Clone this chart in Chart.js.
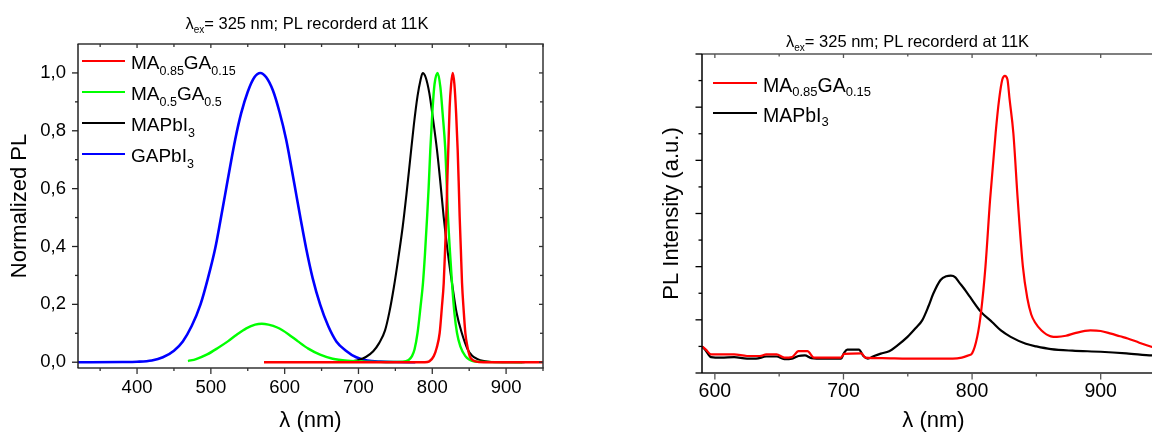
<!DOCTYPE html>
<html><head><meta charset="utf-8">
<script src="https://cdn.jsdelivr.net/npm/chart.js@4.4.1/dist/chart.umd.min.js"></script>
<style>
html,body{margin:0;padding:0;background:#fff;overflow:hidden;width:1152px;height:432px;}
#wrap{position:relative;width:1152px;height:432px;overflow:hidden;font-family:'Liberation Sans',Arial,sans-serif;color:#000;}
canvas{position:absolute;top:0;}
.title{position:absolute;font-size:16.5px;line-height:20px;white-space:nowrap;text-align:center;}
.sub{position:relative;}
.legline{position:absolute;height:0;border-top:2px solid;}
.legtext{position:absolute;line-height:22px;white-space:nowrap;}
</style></head><body>
<div id="wrap">
<canvas id="left" width="576" height="432" style="left:0"></canvas>
<canvas id="right" width="600" height="432" style="left:576px"></canvas>
</div>
<script>
// ---------- Left panel data (normalized PL) ----------
const leftRedX = [572, 700, 790, 796, 802, 806, 810, 813, 815.5, 817.5, 819, 820.5, 822, 823.5, 825.5, 827.7, 830, 832.3, 834.4, 835.8, 837.1, 838.7, 840.3, 842.5, 844.8, 847.5, 850.7, 854, 858.4, 870, 950];
const leftRedY = [0, 0, 0, 0.003, 0.021, 0.05, 0.101, 0.19, 0.274, 0.4, 0.503, 0.64, 0.76, 0.88, 0.96, 1.0, 0.96, 0.86, 0.733, 0.62, 0.503, 0.39, 0.274, 0.18, 0.101, 0.055, 0.021, 0.009, 0.003, 0, 0];

const leftGreenX = [469, 480, 495, 510, 523, 535, 548, 560, 569, 578, 590, 605, 618, 632, 648, 665, 685, 710, 740, 760, 768, 772.5, 776, 780, 784, 787.4, 790, 793, 795, 797.3, 800, 803, 807.3, 811, 814, 817.7, 819.5, 821.3, 824, 826.7, 830, 833.5, 838, 844.8, 850, 856, 870, 922];
const leftGreenY = [0.004, 0.011, 0.027, 0.05, 0.072, 0.095, 0.117, 0.13, 0.133, 0.13, 0.12, 0.097, 0.072, 0.047, 0.026, 0.012, 0.005, 0.002, 0.001, 0.002, 0.008, 0.021, 0.045, 0.101, 0.19, 0.274, 0.37, 0.503, 0.6, 0.733, 0.86, 0.96, 1.0, 0.95, 0.86, 0.733, 0.62, 0.503, 0.38, 0.274, 0.17, 0.101, 0.055, 0.021, 0.009, 0.003, 0.001, 0];

const leftBlackX = [692, 700, 710, 720, 728, 736, 742, 748, 754, 760, 765, 770, 775, 780, 784, 787, 791, 796, 801, 806.4, 811, 815.4, 821, 826.7, 833, 840, 848, 854, 860.7, 870, 880, 925];
const leftBlackY = [0.004, 0.008, 0.018, 0.038, 0.066, 0.11, 0.175, 0.26, 0.36, 0.47, 0.58, 0.7, 0.82, 0.92, 0.975, 1.0, 0.985, 0.93, 0.84, 0.733, 0.62, 0.503, 0.38, 0.274, 0.17, 0.101, 0.044, 0.022, 0.0115, 0.004, 0.001, 0];

const leftBlueX = [320, 380, 400, 420, 435, 450, 462, 474, 486, 496, 506, 513, 519, 526, 533, 541, 550, 559, 567, 575, 584, 593, 602, 609, 616, 622, 629, 638, 648, 659, 670, 683, 697, 712, 730, 750, 777];
const leftBlueY = [0, 0.0005, 0.0015, 0.006, 0.017, 0.04, 0.072, 0.125, 0.2, 0.29, 0.395, 0.49, 0.575, 0.675, 0.77, 0.86, 0.935, 0.985, 1.0, 0.985, 0.94, 0.865, 0.77, 0.675, 0.575, 0.49, 0.395, 0.29, 0.2, 0.125, 0.072, 0.04, 0.017, 0.006, 0.002, 0.0005, 0];

const leftNames = ['MA<span class="s">0.85</span>GA<span class="s">0.15</span>', 'MA<span class="s">0.5</span>GA<span class="s">0.5</span>', 'MAPbI<span class="s">3</span>', 'GAPbI<span class="s">3</span>'];
const leftColors = ['#ff0000', '#00ff00', '#000000', '#0000ff'];

const leftXTicks = [400, 500, 600, 700, 800, 900];
const leftXMinor = [350, 450, 550, 650, 750, 850, 950];
const leftYTicks = [0, 0.2, 0.4, 0.6, 0.8, 1.0];
const leftYLabels = ['0,0', '0,2', '0,4', '0,6', '0,8', '1,0'];
const leftYMinor = [0.1, 0.3, 0.5, 0.7, 0.9];

// ---------- Right panel data (PL intensity, a.u.) ----------
const rightRedX = [590, 593, 597, 605, 615, 625, 635, 640, 648, 654, 660, 665, 672, 677, 690, 698, 700.5, 714, 717, 730, 750, 770, 785, 792, 797, 800, 804, 807, 810.4, 814, 818.3, 821, 823.5, 825.5, 827.5, 829.2, 832.1, 835.5, 839.5, 843, 846, 849, 854, 861.2, 866, 873, 880, 892, 900, 908, 915, 921, 930, 940, 950];
const rightRedY = [0.5, 0.44, 0.35, 0.35, 0.35, 0.32, 0.32, 0.35, 0.35, 0.29, 0.3, 0.41, 0.41, 0.29, 0.29, 0.29, 0.36, 0.37, 0.29, 0.28, 0.27, 0.27, 0.27, 0.29, 0.33, 0.37, 0.68, 1.15, 2.0, 3.26, 4.51, 5.14, 5.52, 5.59, 5.52, 5.14, 4.51, 3.26, 2.0, 1.4, 1.1, 0.95, 0.8, 0.69, 0.68, 0.7, 0.75, 0.8, 0.79, 0.74, 0.69, 0.65, 0.57, 0.49, 0.42];

const rightBlackX = [590, 593, 597, 605, 615, 625, 632, 640, 648, 654, 660, 665, 670, 675, 685, 698, 700.5, 703, 712, 715.5, 719, 723, 729, 735.5, 742, 749.8, 756, 761.2, 766, 769.8, 775.5, 780, 783.5, 787, 789.8, 794, 798.4, 806.9, 815.5, 822.4, 830, 841.8, 850, 861.3, 878, 900, 920, 940, 950];
const rightBlackY = [0.5, 0.42, 0.3, 0.29, 0.3, 0.27, 0.27, 0.31, 0.31, 0.26, 0.27, 0.32, 0.33, 0.28, 0.27, 0.27, 0.38, 0.44, 0.44, 0.32, 0.27, 0.31, 0.365, 0.41, 0.52, 0.68, 0.84, 0.99, 1.25, 1.49, 1.75, 1.82, 1.83, 1.8, 1.71, 1.58, 1.43, 1.15, 0.96, 0.8, 0.68, 0.55, 0.5, 0.45, 0.42, 0.40, 0.37, 0.33, 0.32];

const rightNames = ['MA<span class="s">0.85</span>GA<span class="s">0.15</span>', 'MAPbI<span class="s">3</span>'];
const rightColors = ['#ff0000', '#000000'];

const rightXTicks = [600, 700, 800, 900];
const rightXMinor = [650, 750, 850, 950];
const rightYMajor = [0, 1, 2, 3, 4, 5, 6];
const rightYMinor = [0.5, 1.5, 2.5, 3.5, 4.5, 5.5];

const titleHTML = 'λ<span class="sub" style="font-size:10px;top:4px">ex</span>= 325 nm; PL recorderd at 11K';

// ---------- helpers ----------
const FAM = "'Liberation Sans', Arial, sans-serif";
function pts(xs, ys) { return xs.map((x, i) => ({x: x, y: ys[i]})); }
function ds(xs, ys, color, w) {
  return {data: pts(xs, ys), borderColor: color, backgroundColor: color, borderWidth: w,
    showLine: true, pointRadius: 0, cubicInterpolationMode: 'monotone', fill: false};
}
function framePlugin(o) {
  return {
    id: 'frame' + o.name,
    afterDraw(chart) {
      const ctx = chart.ctx, a = chart.chartArea, xs = chart.scales.x, ys = chart.scales.y;
      ctx.save();
      const seg = (x1, y1, x2, y2, c, w) => { ctx.strokeStyle = c; ctx.lineWidth = w; ctx.beginPath(); ctx.moveTo(x1, y1); ctx.lineTo(x2, y2); ctx.stroke(); };
      o.xMajor.forEach(v => { const p = xs.getPixelForValue(v);
        seg(p, a.bottom, p, a.bottom + o.outMaj, o.bottomColor, o.tw);
        seg(p, a.top, p, a.top + o.inMaj, o.topColor, o.tw); });
      o.xMinor.forEach(v => { const p = xs.getPixelForValue(v);
        seg(p, a.bottom, p, a.bottom + o.outMin, o.bottomColor, o.tw);
        seg(p, a.top, p, a.top + o.inMin, o.topColor, o.tw); });
      o.yMajor.forEach(v => { const p = ys.getPixelForValue(v);
        seg(a.left, p, a.left - o.outMaj, p, o.leftColor, o.tw);
        if (o.right) seg(a.right, p, a.right - o.inMaj, p, o.rightColor, o.tw); });
      o.yMinor.forEach(v => { const p = ys.getPixelForValue(v);
        seg(a.left, p, a.left - o.outMin, p, o.leftColor, o.tw);
        if (o.right) seg(a.right, p, a.right - o.inMin, p, o.rightColor, o.tw); });
      seg(a.left - 0.5, a.top, a.right + 0.75, a.top, o.topColor, o.topW);
      seg(a.left - 0.5, a.bottom, a.right + 0.75, a.bottom, o.bottomColor, o.bottomW);
      if (o.right) seg(a.right, a.top, a.right, a.bottom, o.rightColor, o.rightW);
      seg(a.left, a.top, a.left, a.bottom, o.leftColor, o.leftW);
      ctx.restore();
    }
  };
}
function addText(html, cls, style) {
  const d = document.createElement('div');
  d.className = cls; d.innerHTML = html;
  Object.assign(d.style, style);
  document.getElementById('wrap').appendChild(d);
  return d;
}
function legend(names, colors, rows, lx1, lx2, tx, fs, subFs, subTop) {
  names.forEach((n, i) => {
    const r = rows[i];
    addText('', 'legline', {left: lx1 + 'px', width: (lx2 - lx1) + 'px', top: (r - 1) + 'px', borderTopColor: colors[i]});
    const t = addText(n, 'legtext', {left: tx + 'px', top: (r - 9) + 'px', fontSize: fs + 'px'});
    t.querySelectorAll('.s').forEach(s => { s.style.fontSize = subFs + 'px'; s.style.position = 'relative'; s.style.top = subTop + 'px'; });
  });
}

// ---------- Left chart ----------
new Chart(document.getElementById('left'), {
  type: 'scatter',
  data: {datasets: [
    ds(leftRedX, leftRedY, leftColors[0], 2.4),
    ds(leftGreenX, leftGreenY, leftColors[1], 2.4),
    ds(leftBlackX, leftBlackY, leftColors[2], 2.1),
    ds(leftBlueX, leftBlueY, leftColors[3], 2.6)
  ]},
  options: {
    responsive: false, animation: false, devicePixelRatio: 1,
    layout: {padding: {left: 0, top: 44, right: 33, bottom: 0}},
    plugins: {legend: {display: false}, title: {display: false}, tooltip: {enabled: false}},
    scales: {
      x: {type: 'linear', min: 320, max: 950,
        grid: {display: false, drawTicks: false}, border: {display: false},
        afterBuildTicks: s => { s.ticks = leftXTicks.map(v => ({value: v})); },
        afterFit: s => { s.height = 64; },
        ticks: {padding: 9, color: '#000', autoSkip: false, maxRotation: 0, font: {family: FAM, size: 18.5}, callback: v => String(v)},
        title: {display: true, text: 'λ (nm)', color: '#000', font: {family: FAM, size: 22, lineHeight: 1}, padding: {top: 0, bottom: 0}}},
      y: {type: 'linear', min: -0.02, max: 1.1,
        grid: {display: false, drawTicks: false}, border: {display: false},
        afterBuildTicks: s => { s.ticks = leftYTicks.map(v => ({value: v})); },
        afterFit: s => { s.width = 78; },
        ticks: {padding: 12, color: '#000', autoSkip: false, font: {family: FAM, size: 18.5}, callback: v => leftYLabels[leftYTicks.indexOf(v)]},
        title: {display: true, text: 'Normalized PL', color: '#000', font: {family: FAM, size: 22, lineHeight: 1.2}, padding: {top: 7, bottom: 0}}}
    }
  },
  plugins: [framePlugin({name: 'L', xMajor: leftXTicks, xMinor: leftXMinor, yMajor: leftYTicks, yMinor: leftYMinor,
    outMaj: 6, outMin: 3, inMaj: 4, inMin: 3, tw: 1.3, right: true,
    topColor: '#333', bottomColor: '#333', leftColor: '#222', rightColor: '#333',
    topW: 1.5, bottomW: 1.5, leftW: 1.5, rightW: 1.5})]
});

// ---------- Right chart ----------
new Chart(document.getElementById('right'), {
  type: 'scatter',
  data: {datasets: [
    ds(rightRedX, rightRedY, rightColors[0], 2.2),
    ds(rightBlackX, rightBlackY, rightColors[1], 2.2)
  ]},
  options: {
    responsive: false, animation: false, devicePixelRatio: 1,
    layout: {padding: {left: 0, top: 54, right: 11, bottom: 0}},
    plugins: {legend: {display: false}, title: {display: false}, tooltip: {enabled: false}},
    scales: {
      x: {type: 'linear', min: 590, max: 950,
        grid: {display: false, drawTicks: false}, border: {display: false},
        afterBuildTicks: s => { s.ticks = rightXTicks.map(v => ({value: v})); },
        afterFit: s => { s.height = 59; },
        ticks: {padding: 7, color: '#000', autoSkip: false, maxRotation: 0, font: {family: FAM, size: 19.5}, callback: v => String(v)},
        title: {display: true, text: 'λ (nm)', color: '#000', font: {family: FAM, size: 22, lineHeight: 1}, padding: {top: 0, bottom: 0}}},
      y: {type: 'linear', min: 0, max: 6,
        grid: {display: false, drawTicks: false}, border: {display: false},
        afterBuildTicks: s => { s.ticks = rightYMajor.map(v => ({value: v})); },
        afterFit: s => { s.width = 126; },
        ticks: {display: false},
        title: {display: true, text: 'PL Intensity (a.u.)', color: '#000', font: {family: FAM, size: 22, lineHeight: 1.2}, padding: {top: 83, bottom: 0}}}
    }
  },
  plugins: [framePlugin({name: 'R', xMajor: rightXTicks, xMinor: rightXMinor, yMajor: rightYMajor, yMinor: rightYMinor,
    outMaj: 6.5, outMin: 3.5, inMaj: 4, inMin: 2.5, tw: 1.3, right: false,
    topColor: '#555', bottomColor: '#555', leftColor: '#000', rightColor: '#555',
    topW: 1.6, bottomW: 2, leftW: 1.5, rightW: 1.5})]
});

// ---------- Titles & legends (HTML text with subscripts) ----------
addText(titleHTML, 'title', {left: '0px', width: '614px', top: '12.5px'});
addText(titleHTML, 'title', {left: '786px', width: '250px', top: '31px', textAlign: 'left'});
legend(leftNames, leftColors, [61, 92, 123, 154], 82, 125, 131, 19, 12.5, 6);
legend(rightNames, rightColors, [82.7, 112.7], 713, 757, 763, 19.5, 13, 4.5);
</script>
</body></html>
